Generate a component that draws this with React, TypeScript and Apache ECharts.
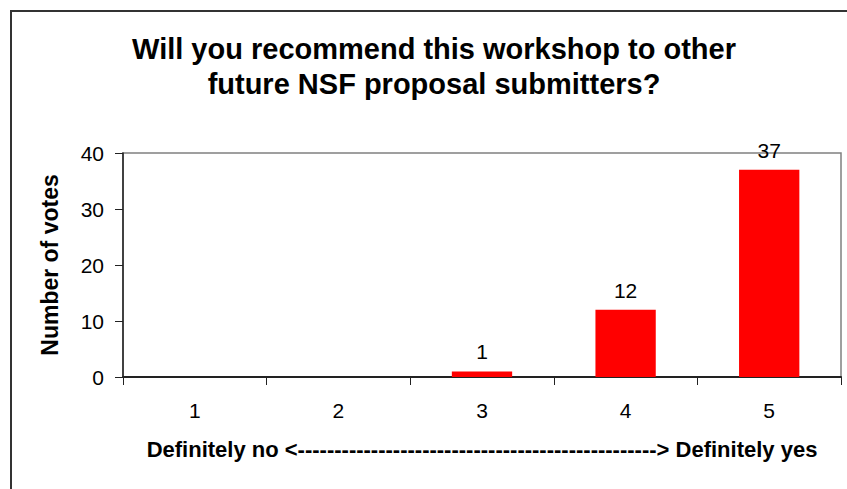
import React, { useEffect, useRef } from "react";
import * as echarts from "echarts";

const titleLines = [
  "Will you recommend this workshop to other",
  "future NSF proposal submitters?",
];
const categories = ["1", "2", "3", "4", "5"];
const votes = [0, 0, 1, 12, 37];
const yMin = 0;
const yMax = 40;
const yInterval = 10;
const yAxisName = "Number of votes";
const xAxisName =
  "Definitely no <" + "-".repeat(49) + "> Definitely yes";

const FONT = "'Liberation Sans', Arial, sans-serif";

export default function App() {
  const ref = useRef<HTMLDivElement>(null);
  useEffect(() => {
    if (!ref.current) return;
    const chart = echarts.init(ref.current, undefined, { renderer: "svg" });
    chart.setOption({
      animation: false,
      backgroundColor: "#ffffff",
      textStyle: { fontFamily: FONT, color: "#000" },
      graphic: [
        {
          type: "rect",
          shape: { x: 11, y: 11, width: 900, height: 600 },
          style: { fill: "none", stroke: "#333333", lineWidth: 2 },
          silent: true,
        },
        {
          type: "text",
          x: 434,
          y: 31,
          style: {
            text: titleLines.join("\n"),
            font: `bold 29px ${FONT}`,
            fill: "#000",
            textAlign: "center",
            textVerticalAlign: "top",
            lineHeight: 35,
          },
        },
      ],
      grid: {
        left: 123,
        right: 6,
        top: 153,
        bottom: 112,
        show: true,
        borderColor: "#808080",
        borderWidth: 1.5,
        backgroundColor: "transparent",
        containLabel: false,
      },
      xAxis: {
        type: "category",
        data: categories,
        name: xAxisName,
        nameLocation: "middle",
        nameGap: 61,
        nameTextStyle: {
          fontFamily: FONT,
          fontWeight: "bold",
          fontSize: 22,
          color: "#000",
        },
        axisLine: { show: true, lineStyle: { color: "#222", width: 2 } },
        axisTick: {
          show: true,
          alignWithLabel: false,
          length: 8,
          lineStyle: { color: "#222", width: 1 },
        },
        axisLabel: { fontSize: 21, color: "#000", margin: 23, fontFamily: FONT },
        splitLine: { show: false },
      },
      yAxis: {
        type: "value",
        min: yMin,
        max: yMax,
        interval: yInterval,
        name: yAxisName,
        nameLocation: "middle",
        nameGap: 62,
        nameTextStyle: {
          fontFamily: FONT,
          fontWeight: "bold",
          fontSize: 23,
          color: "#000",
        },
        axisLine: { show: true, lineStyle: { color: "#222", width: 1.5 } },
        axisTick: {
          show: true,
          inside: false,
          length: 8,
          lineStyle: { color: "#222", width: 1 },
        },
        axisLabel: { fontSize: 21, color: "#000", margin: 19, fontFamily: FONT },
        splitLine: { show: false },
      },
      series: [
        {
          type: "bar",
          data: votes,
          barWidth: "42%",
          itemStyle: { color: "#FF0000" },
          label: {
            show: true,
            position: "top",
            distance: 9,
            fontSize: 21,
            color: "#000",
            fontFamily: FONT,
            formatter: (p: any) => (p.value > 0 ? String(p.value) : ""),
          },
        },
      ],
    });
    return () => chart.dispose();
  }, []);
  return (
    <div
      ref={ref}
      style={{ position: "fixed", left: 0, top: 0, width: 847, height: 489 }}
    />
  );
}
